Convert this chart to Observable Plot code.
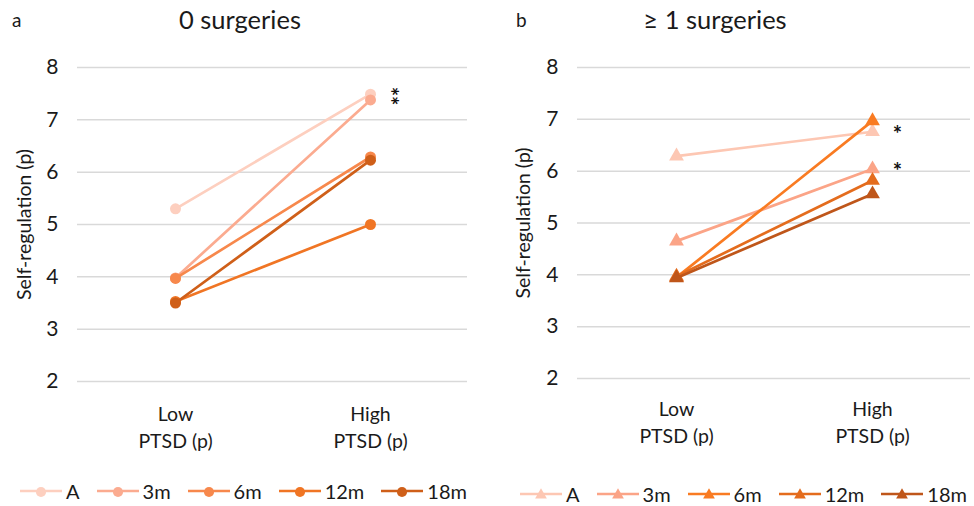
<!DOCTYPE html>
<html>
<head>
<meta charset="utf-8">
<script src="https://cdn.jsdelivr.net/npm/d3@7"></script>
<script src="https://cdn.jsdelivr.net/npm/@observablehq/plot@0.6"></script>
<style>
  body { margin: 0; background: #fff; font-family: Lato, "Open Sans", sans-serif; color: #1a1a1a; }
  #root { position: relative; width: 974px; height: 506px; overflow: hidden; }
  .panel { position: absolute; top: 0; width: 487px; height: 506px; }
  .panel svg.plot { position: absolute; top: 0; left: 0; }
  .tag { position: absolute; top: 8px; font-size: 19px; }
  .title { position: absolute; top: 4px; font-size: 25.5px; transform: translateX(-50%); white-space: nowrap; }
  .legend { position: absolute; display: flex; align-items: center; gap: 17px; font-size: 20px; white-space: nowrap; }
  .legend .item { display: flex; align-items: center; gap: 4px; }
</style>
</head>
<body>
<div id="root"></div>
<script>
// ---- data ----
const series = ["A", "3m", "6m", "12m", "18m"];
const categories = ["Low\nPTSD (p)", "High\nPTSD (p)"];
const yTicks = [2, 3, 4, 5, 6, 7, 8];

// panel a: 0 surgeries
const lowA  = [5.30, 3.98, 3.97, 3.53, 3.50];
const highA = [7.49, 7.38, 6.29, 5.00, 6.23];
const sigA  = [["A", "3m"]];          // asterisk groups (stacked)
const colorsA = ["#fdcfbf", "#fbab90", "#f7884c", "#f07524", "#cf5f19"];

// panel b: >= 1 surgeries
const lowB  = [6.29, 4.65, 3.95, 3.97, 3.94];
const highB = [6.76, 6.04, 6.97, 5.82, 5.56];
const sigB  = [["A"], ["3m"]];
const colorsB = ["#fdc7b3", "#fba487", "#f97b22", "#e46c1d", "#bf561a"];

const yLabel = "Self-regulation (p)";

function makePanel({low, high, colors, symbol, sig, marginLeft, marginRight, marginBottom, labelDx, r, xPad}) {
  const rows = series.flatMap((s, i) => [
    {s, cat: categories[0], v: low[i]},
    {s, cat: categories[1], v: high[i]}
  ]);
  const stars = sig.map(g => ({
    cat: categories[1],
    v: d3.mean(g, s => high[series.indexOf(s)]),
    text: g.map(() => "*").join(""),
    n: g.length
  }));
  const single = stars.filter(d => d.n === 1);
  const stacked = stars.filter(d => d.n > 1);
  const marks = [
    Plot.gridY({ticks: yTicks, stroke: "#d9d9d9", strokeOpacity: 1, strokeWidth: 1.5}),
    Plot.axisY({ticks: yTicks, tickFormat: d3.format("d"), tickSize: 0, tickPadding: 19, fontSize: 21, label: null}),
    Plot.axisX({tickSize: 0, tickPadding: xPad, lineHeight: 1.4, fontSize: 19.5, label: null}),
    Plot.text([yLabel], {text: d => d, frameAnchor: "left", textAnchor: "middle", rotate: -90, dx: labelDx, fontSize: 19.5})
  ];
  series.forEach(s => {
    const d = rows.filter(r => r.s === s);
    marks.push(Plot.line(d, {x: "cat", y: "v", stroke: "s", strokeWidth: 2.7}));
    marks.push(Plot.dot(d, {x: "cat", y: "v", fill: "s", r, symbol}));
  });
  marks.push(Plot.text(single,
    {x: "cat", y: "v", text: "text", dx: 25, dy: 3, fontSize: 22, fontWeight: "bold", fill: "#111"}));
  marks.push(Plot.text(stacked,
    {x: "cat", y: "v", text: "text", rotate: 90, dx: 19, dy: -1, fontSize: 22, fontWeight: "bold", fill: "#111"}));
  return Plot.plot({
    width: 487, height: 460,
    marginTop: 67, marginBottom, marginLeft, marginRight,
    style: {fontFamily: "Lato, sans-serif", color: "#1a1a1a", background: "transparent"},
    x: {type: "point", domain: categories, padding: 0.5},
    y: {domain: [2, 8]},
    color: {domain: series, range: colors},
    marks
  });
}

function legendSwatch(color, symbol) {
  const svg = d3.create("svg").attr("width", 42).attr("height", 14);
  svg.append("line").attr("x1", 0).attr("x2", 42).attr("y1", 7).attr("y2", 7)
    .attr("stroke", color).attr("stroke-width", 2.7);
  const sym = symbol === "triangle" ? d3.symbolTriangle : d3.symbolCircle;
  const size = symbol === "triangle" ? 60 : 80;
  svg.append("path").attr("d", d3.symbol(sym, size)()).attr("transform", "translate(21,8)").attr("fill", color);
  return svg.node();
}

function addPanel(left, tag, tagX, title, titleX, plotOpts, legendLeft, legendTop) {
  const root = document.getElementById("root");
  const p = document.createElement("div");
  p.className = "panel";
  p.style.left = left + "px";
  p.appendChild(makePanel(plotOpts));
  const t = document.createElement("div"); t.className = "tag"; t.textContent = tag;
  t.style.left = tagX + "px";
  p.appendChild(t);
  const h = document.createElement("div"); h.className = "title"; h.textContent = title;
  h.style.left = titleX + "px";
  p.appendChild(h);
  const lg = document.createElement("div"); lg.className = "legend";
  lg.style.left = legendLeft + "px"; lg.style.top = legendTop + "px";
  series.forEach((s, i) => {
    const it = document.createElement("div"); it.className = "item";
    it.appendChild(legendSwatch(plotOpts.colors[i], plotOpts.symbol));
    const sp = document.createElement("span"); sp.textContent = s;
    it.appendChild(sp);
    lg.appendChild(it);
  });
  p.appendChild(lg);
  root.appendChild(p);
}

addPanel(0, "a", 12, "0 surgeries", 240,
  {low: lowA, high: highA, colors: colorsA, symbol: "circle", sig: sigA,
   marginLeft: 77, marginRight: 20, marginBottom: 79, labelDx: -53, r: 5.5, xPad: 20},
  20, 479);
addPanel(487, "b", 29, "≥ 1 surgeries", 228,
  {low: lowB, high: highB, colors: colorsB, symbol: "triangle", sig: sigB,
   marginLeft: 90, marginRight: 4, marginBottom: 82, labelDx: -54, r: 5.5, xPad: 18},
  33, 482);
</script>
</body>
</html>
